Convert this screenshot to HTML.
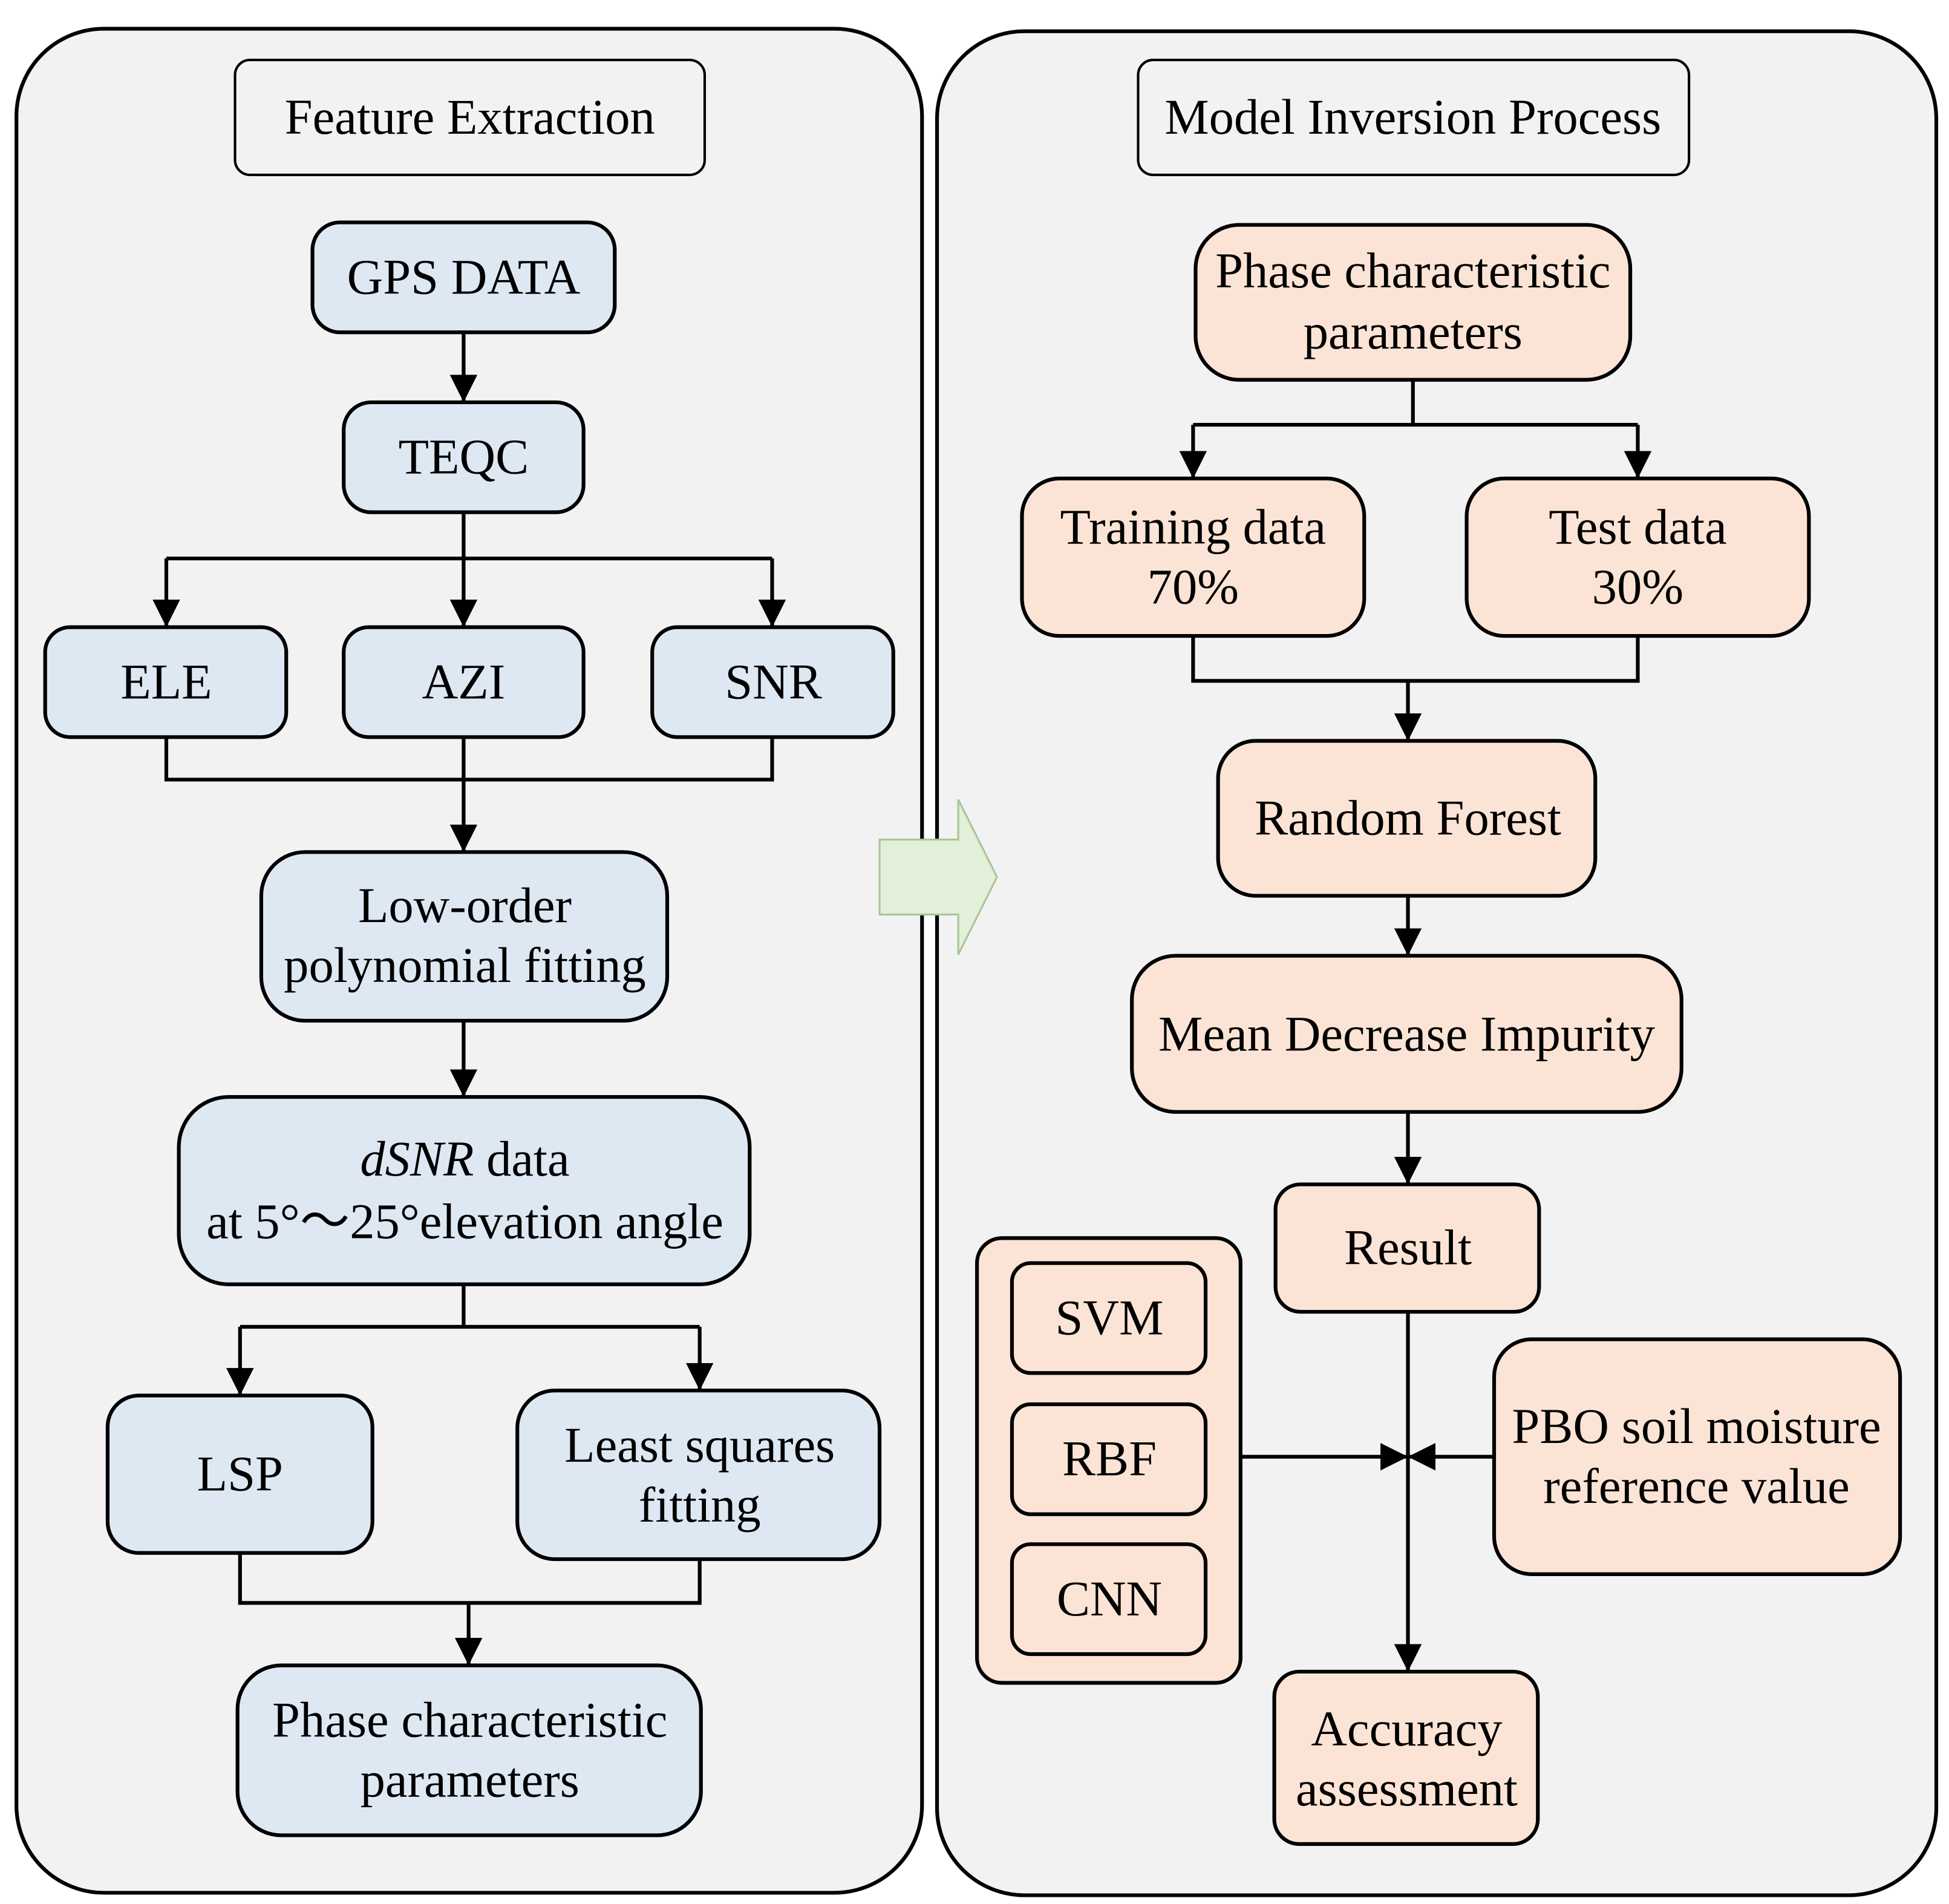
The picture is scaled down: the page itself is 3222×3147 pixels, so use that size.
<!DOCTYPE html>
<html><head><meta charset="utf-8"><style>html,body{margin:0;padding:0;background:#fff}svg{display:block}</style></head>
<body>
<svg width="3222" height="3147" viewBox="0 0 1560 1524" xmlns="http://www.w3.org/2000/svg" font-family="Liberation Serif, serif" font-size="40" text-anchor="middle">
<defs>
<marker id="b" viewBox="0 0 10 10" refX="10" refY="5" markerWidth="22" markerHeight="22" orient="auto" markerUnits="userSpaceOnUse"><path d="M0,0L10,5L0,10z"/></marker></defs>
<rect width="1560" height="1524" fill="#fff"/>
<rect x="13" y="23" width="725" height="1492" rx="70" fill="#f2f2f2" stroke="#000" stroke-width="3"/>
<rect x="750" y="25" width="800" height="1492" rx="70" fill="#f2f2f2" stroke="#000" stroke-width="3"/>
<g stroke="#000" stroke-width="2"><rect x="188" y="48" width="376" height="92" rx="12" fill="#f2f2f2"/><rect x="911" y="48" width="441" height="92" rx="12" fill="#f2f2f2"/></g>
<text x="376" y="107">Feature Extraction</text><text x="1131" y="107">Model Inversion Process</text>
<g fill="#dde8f3" stroke="#000" stroke-width="3">
<rect x="250" y="178" width="242" height="88" rx="22"/>
<rect x="275" y="322" width="192" height="88" rx="22"/>
<rect x="36" y="502" width="193" height="88" rx="20"/>
<rect x="275" y="502" width="192" height="88" rx="20"/>
<rect x="522" y="502" width="193" height="88" rx="20"/>
<rect x="209" y="682" width="325" height="135" rx="35"/>
<rect x="143" y="878" width="457" height="150" rx="40"/>
<rect x="86" y="1117" width="212" height="126" rx="25"/>
<rect x="414" y="1113" width="290" height="135" rx="30"/>
<rect x="190" y="1333" width="371" height="136" rx="35"/>
</g>
<g fill="#fbe4d5" stroke="#000" stroke-width="3">
<rect x="957" y="180" width="348" height="124" rx="35"/>
<rect x="818" y="383" width="274" height="126" rx="30"/>
<rect x="1174" y="383" width="274" height="126" rx="30"/>
<rect x="975" y="593" width="302" height="124" rx="30"/>
<rect x="906" y="765" width="440" height="125" rx="35"/>
<rect x="1021" y="948" width="211" height="102" rx="20"/>
<rect x="1020" y="1338" width="211" height="138" rx="20"/>
<rect x="782" y="991" width="211" height="356" rx="20"/>
<rect x="810" y="1011" width="155" height="88" rx="15"/>
<rect x="810" y="1124" width="155" height="88" rx="15"/>
<rect x="810" y="1236" width="155" height="88" rx="15"/>
<rect x="1196" y="1072" width="325" height="188" rx="30"/>
</g>
<g fill="none" stroke="#000" stroke-width="3">
<path d="M371,266V322" marker-end="url(#b)"/>
<path d="M371,410V502" marker-end="url(#b)"/>
<path d="M133,447H618"/>
<path d="M133,447V502" marker-end="url(#b)"/>
<path d="M618,447V502" marker-end="url(#b)"/>
<path d="M133,590V624H618V590"/>
<path d="M371,590V682" marker-end="url(#b)"/>
<path d="M371,817V878" marker-end="url(#b)"/>
<path d="M371,1028V1062M192,1062H560"/>
<path d="M192,1062V1117" marker-end="url(#b)"/>
<path d="M560,1062V1113" marker-end="url(#b)"/>
<path d="M192,1243V1283H560V1248"/>
<path d="M375,1283V1333" marker-end="url(#b)"/>
<path d="M1131,304V340M955,340H1311"/>
<path d="M955,340V383" marker-end="url(#b)"/>
<path d="M1311,340V383" marker-end="url(#b)"/>
<path d="M955,509V545H1311V509"/>
<path d="M1127,545V593" marker-end="url(#b)"/>
<path d="M1127,717V765" marker-end="url(#b)"/>
<path d="M1127,890V948" marker-end="url(#b)"/>
<path d="M1127,1050V1338" marker-end="url(#b)"/>
<path d="M993,1166H1127" marker-end="url(#b)"/>
<path d="M1196,1166H1127" marker-end="url(#b)"/>
</g>
<path d="M704,672H767V640L798,702L767,764V732H704Z" fill="#e2efd9" stroke="#a9c597" stroke-width="1.5"/>
<text x="371" y="235">GPS DATA</text>
<text x="371" y="379">TEQC</text>
<text x="133" y="559">ELE</text><text x="371" y="559">AZI</text><text x="619" y="559">SNR</text>
<text x="372" y="738">Low-order</text><text x="372" y="786">polynomial fitting</text>
<text x="372" y="941"><tspan font-style="italic">dSNR</tspan> data</text><text x="372" y="991">at 5°～25°elevation angle</text>
<text x="192" y="1193">LSP</text>
<text x="560" y="1170">Least squares</text><text x="560" y="1218">fitting</text>
<text x="376" y="1390">Phase characteristic</text><text x="376" y="1438">parameters</text>
<text x="1131" y="230">Phase characteristic</text><text x="1131" y="279">parameters</text>
<text x="955" y="435">Training data</text><text x="955" y="483">70%</text>
<text x="1311" y="435">Test data</text><text x="1311" y="483">30%</text>
<text x="1127" y="668">Random Forest</text>
<text x="1126" y="841">Mean Decrease Impurity</text>
<text x="1127" y="1012">Result</text>
<text x="1126" y="1397">Accuracy</text><text x="1126" y="1445">assessment</text>
<text x="888" y="1068">SVM</text><text x="888" y="1181">RBF</text><text x="888" y="1293">CNN</text>
<text x="1358" y="1155">PBO soil moisture</text><text x="1358" y="1203">reference value</text>
</svg>
</body></html>
